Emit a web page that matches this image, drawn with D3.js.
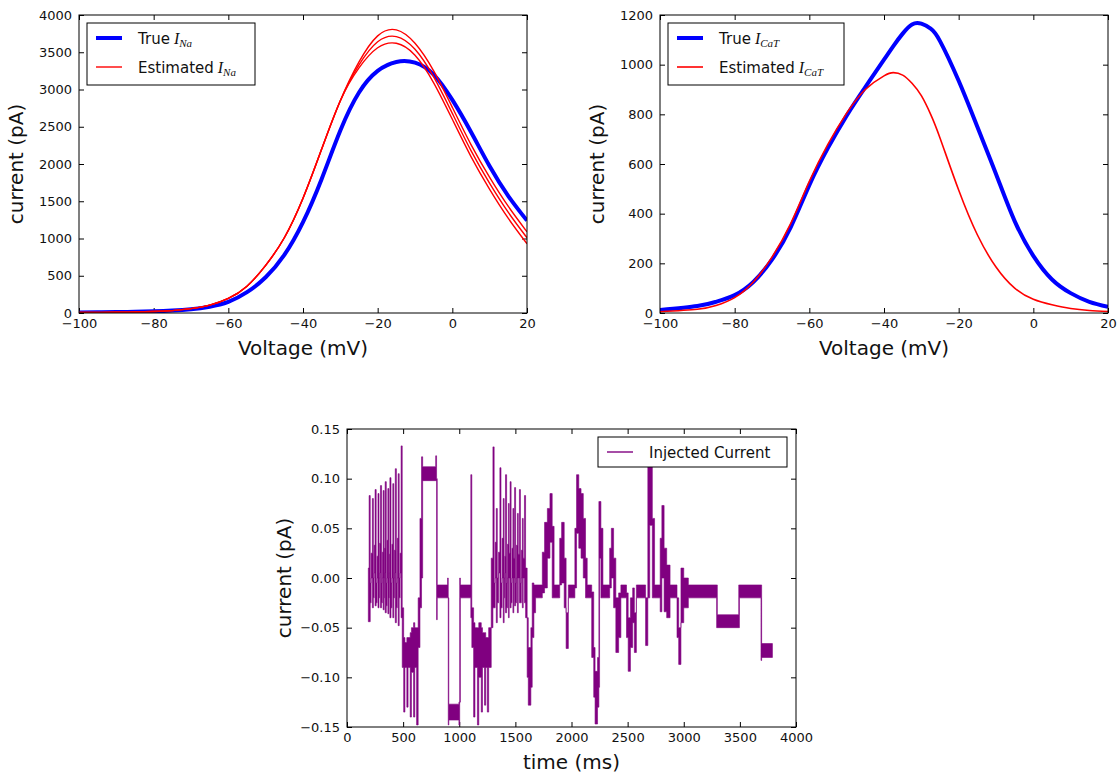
<!DOCTYPE html>
<html>
<head>
<meta charset="utf-8">
<script src="https://cdn.jsdelivr.net/npm/d3@7"></script>
<style>
  body { margin: 0; background: #fff; }
  svg text { font-family: "DejaVu Sans", sans-serif; fill: #111; }
</style>
</head>
<body>
<div id="chart"></div>
<script>
// ---- data ----
var naVoltage = [-100, -95, -90, -85, -80, -75, -70, -65, -60, -55, -50, -45, -40, -35, -30, -25, -20, -15, -10, -5, 0, 5, 10, 15, 20];
var naTrue = [8, 10, 12, 16, 22, 32, 50, 85, 150, 280, 480, 780, 1220, 1800, 2450, 2960, 3250, 3370, 3360, 3200, 2860, 2430, 1970, 1570, 1240];
var naEst1 = [6, 8, 10, 14, 20, 32, 58, 105, 195, 360, 640, 1010, 1540, 2200, 2850, 3370, 3720, 3800, 3620, 3250, 2760, 2260, 1820, 1430, 1090];
var naEst2 = [6, 8, 10, 14, 20, 32, 58, 105, 195, 360, 640, 1010, 1540, 2200, 2850, 3330, 3640, 3710, 3540, 3170, 2680, 2180, 1740, 1350, 1010];
var naEst3 = [6, 8, 10, 14, 20, 32, 58, 105, 195, 360, 640, 1010, 1540, 2200, 2850, 3290, 3560, 3620, 3460, 3090, 2600, 2100, 1660, 1270, 930];

var caVoltage = [-100, -90, -85, -80, -75, -70, -65, -60, -55, -50, -45, -40, -37.5, -35, -32.5, -30, -27.5, -25, -20, -15, -10, -5, 0, 5, 10, 15, 20];
var caTrue = [12, 28, 45, 72, 125, 215, 345, 515, 665, 795, 910, 1020, 1075, 1125, 1162, 1165, 1145, 1095, 935, 750, 560, 370, 230, 135, 80, 45, 25];
var caEst = [5, 15, 30, 62, 125, 225, 360, 530, 680, 805, 900, 955, 968, 958, 925, 875, 800, 705, 495, 315, 185, 100, 55, 33, 18, 10, 6];

// injected current: [start time (ms), min, max] of the trace in each stretch
var injected = [
  [190, -0.044, 0.01], [197, -0.044, 0.083], [207, -0.025, -0.005], [215, 0.0, 0.025],
  [226, -0.03, 0.08], [235, -0.02, 0.0], [242, 0.005, 0.033],
  [250, -0.028, 0.089], [260, -0.025, -0.005], [268, 0.0, 0.022],
  [276, -0.03, 0.085], [285, -0.02, 0.0], [291, 0.005, 0.035],
  [298, -0.03, 0.093], [308, -0.025, -0.005], [315, 0.0, 0.026],
  [322, -0.032, 0.088], [331, -0.02, 0.0], [335, 0.005, 0.03],
  [340, -0.035, 0.097], [350, -0.028, -0.005], [357, 0.0, 0.038],
  [364, -0.036, 0.09], [373, -0.02, 0.0], [377, 0.005, 0.024],
  [382, -0.04, 0.101], [392, -0.03, -0.005], [400, 0.0, 0.034],
  [408, -0.04, 0.095], [417, -0.02, 0.0], [423, 0.005, 0.028],
  [430, -0.045, 0.11], [440, -0.03, -0.005], [448, 0.0, 0.04],
  [456, -0.048, 0.105], [465, -0.02, 0.0], [473, 0.005, 0.025],
  [482, -0.04, 0.133], [492, -0.09, -0.03], [505, -0.135, -0.06],
  [516, -0.09, -0.065], [533, -0.13, -0.06], [544, -0.09, -0.06], [563, -0.14, -0.055],
  [574, -0.095, -0.05], [593, -0.14, -0.045], [604, -0.09, -0.05], [620, -0.148, -0.05],
  [634, -0.07, -0.02], [650, -0.03, 0.06], [664, 0.0, 0.122], [674, 0.098, 0.112],
  [790, 0.098, 0.123], [798, -0.042, 0.1], [804, -0.02, -0.007], [896, -0.02, 0.0],
  [902, -0.148, -0.02], [907, -0.143, -0.127], [997, -0.148, -0.125], [1004, -0.125, 0.0],
  [1010, -0.02, -0.007], [1103, -0.04, 0.104], [1112, -0.07, -0.03], [1128, -0.14, -0.045],
  [1140, -0.09, -0.05], [1162, -0.148, -0.05], [1174, -0.1, -0.045], [1196, -0.135, -0.05],
  [1207, -0.09, -0.055], [1225, -0.128, -0.055], [1236, -0.09, -0.06], [1250, -0.135, -0.06],
  [1262, -0.09, -0.05], [1285, -0.05, 0.02],
  [1300, -0.03, 0.132], [1311, -0.03, -0.005], [1320, 0.0, 0.036],
  [1330, -0.045, 0.07], [1339, -0.025, 0.0], [1350, 0.005, 0.026],
  [1362, -0.04, 0.111], [1372, -0.03, -0.005], [1382, 0.0, 0.04],
  [1392, -0.045, 0.08], [1400, -0.02, 0.0], [1406, 0.005, 0.022],
  [1412, -0.035, 0.104], [1422, -0.03, -0.005], [1430, 0.0, 0.034],
  [1438, -0.04, 0.075], [1445, 0.0, 0.025],
  [1453, -0.03, 0.097], [1462, -0.025, -0.005], [1470, 0.0, 0.03],
  [1478, -0.035, 0.07], [1486, 0.0, 0.02],
  [1493, -0.028, 0.091], [1502, -0.025, -0.005], [1510, 0.0, 0.033],
  [1518, -0.035, 0.065], [1526, 0.0, 0.024],
  [1536, -0.025, 0.089], [1545, -0.025, -0.005], [1553, 0.0, 0.028],
  [1562, -0.03, 0.06], [1570, 0.0, 0.02],
  [1581, -0.025, 0.083], [1591, -0.04, 0.01],
  [1605, -0.1, -0.04], [1615, -0.128, -0.07], [1638, -0.11, -0.05], [1650, -0.06, -0.005],
  [1665, -0.035, -0.007], [1680, -0.02, -0.007], [1740, -0.015, 0.026], [1760, -0.01, 0.056],
  [1785, 0.02, 0.07], [1808, 0.036, 0.085], [1828, -0.02, 0.052], [1845, -0.02, -0.007],
  [1895, -0.007, 0.04], [1912, -0.005, 0.056], [1935, -0.03, 0.02], [1952, -0.071, -0.035],
  [1972, -0.02, -0.007], [2030, -0.01, 0.05], [2045, 0.045, 0.104], [2065, 0.03, 0.09],
  [2085, 0.02, 0.085], [2105, 0.0, 0.06], [2125, -0.02, 0.02], [2140, -0.02, -0.007],
  [2180, -0.08, -0.014], [2198, -0.12, -0.07], [2210, -0.147, -0.094], [2232, -0.13, -0.08],
  [2244, -0.11, 0.077], [2250, 0.02, 0.077], [2262, -0.02, 0.05], [2280, -0.02, -0.007],
  [2340, -0.01, 0.03], [2355, 0.0, 0.05], [2375, -0.03, 0.02], [2395, -0.075, -0.02],
  [2420, -0.06, -0.015], [2440, -0.02, -0.007], [2490, -0.06, -0.015], [2505, -0.094, -0.04],
  [2525, -0.07, -0.02], [2545, -0.045, -0.01], [2560, -0.075, -0.035], [2578, -0.02, -0.007],
  [2660, -0.068, -0.02], [2680, -0.02, 0.112], [2697, 0.053, 0.112], [2720, -0.02, 0.06],
  [2740, -0.02, -0.007], [2790, -0.034, 0.04], [2805, 0.0, 0.073], [2825, -0.034, 0.03],
  [2848, -0.04, 0.013], [2878, -0.02, -0.007], [2940, -0.06, -0.02], [2955, -0.087, -0.05],
  [2975, -0.045, 0.01], [3000, -0.03, 0.0], [3041, -0.02, -0.007], [3293, -0.05, -0.007],
  [3299, -0.05, -0.037], [3490, -0.05, -0.007], [3496, -0.02, -0.007], [3688, -0.083, -0.007],
  [3694, -0.08, -0.066], [3790, -0.08, -0.066]
];

// tick labels
var voltageTicks = [-100, -80, -60, -40, -20, 0, 20];
var naTicks = [0, 500, 1000, 1500, 2000, 2500, 3000, 3500, 4000];
var caTicks = [0, 200, 400, 600, 800, 1000, 1200];
var timeTicks = [0, 500, 1000, 1500, 2000, 2500, 3000, 3500, 4000];
var injTicks = [-0.15, -0.1, -0.05, 0, 0.05, 0.1, 0.15];

// ---- layout ----
var svg_Width = 1120, svg_Height = 777;
var svg = d3.select("#chart").append("svg")
  .attr("width", svg_Width)
  .attr("height", svg_Height);

// draws inward ticks on all four sides plus axis labels, returns scales
function makePanel(box, xDomain, yDomain, xTicks, yTicks, xFmt, yFmt, xLabel, yLabel) {
  var x = d3.scaleLinear().domain(xDomain).range([box.x, box.x + box.w]);
  var y = d3.scaleLinear().domain(yDomain).range([box.y + box.h, box.y]);

  var g = svg.append("g");

  g.append("g")
    .attr("transform", `translate(0, ${box.y + box.h})`)
    .call(d3.axisBottom(x).tickValues(xTicks).tickFormat(xFmt).tickSizeInner(-5).tickSizeOuter(0).tickPadding(6));
  g.append("g")
    .attr("transform", `translate(0, ${box.y})`)
    .call(d3.axisTop(x).tickValues(xTicks).tickFormat("").tickSizeInner(-5).tickSizeOuter(0));
  g.append("g")
    .attr("transform", `translate(${box.x}, 0)`)
    .call(d3.axisLeft(y).tickValues(yTicks).tickFormat(yFmt).tickSizeInner(-5).tickSizeOuter(0).tickPadding(7));
  g.append("g")
    .attr("transform", `translate(${box.x + box.w}, 0)`)
    .call(d3.axisRight(y).tickValues(yTicks).tickFormat("").tickSizeInner(-5).tickSizeOuter(0));

  g.selectAll(".domain").remove();
  g.selectAll(".tick line").attr("stroke", "#000");
  g.selectAll(".tick text")
    .style("font-family", "DejaVu Sans, sans-serif")
    .style("font-size", "13px")
    .attr("fill", "#111");

  // axis labels
  svg.append("text")
    .attr("x", box.x + box.w / 2)
    .attr("y", box.y + box.h + 42)
    .attr("text-anchor", "middle")
    .style("font-size", "20px")
    .text(xLabel);
  svg.append("text")
    .attr("transform", `translate(${box.x - 56}, ${box.y + box.h / 2}) rotate(-90)`)
    .attr("text-anchor", "middle")
    .style("font-size", "20px")
    .text(yLabel);

  return { x: x, y: y, box: box };
}

function drawFrame(p) {
  svg.append("rect")
    .attr("x", p.box.x).attr("y", p.box.y)
    .attr("width", p.box.w).attr("height", p.box.h)
    .attr("fill", "none").attr("stroke", "#000").attr("stroke-width", 1);
}

function clipFor(p, id) {
  svg.append("clipPath").attr("id", id)
    .append("rect")
    .attr("x", p.box.x).attr("y", p.box.y)
    .attr("width", p.box.w).attr("height", p.box.h);
  return "url(#" + id + ")";
}

// legend: entries [{color, width, label, sub}]
function drawLegend(lx, ly, lw, lh, entries, rowGap) {
  var g = svg.append("g");
  g.append("rect")
    .attr("x", lx).attr("y", ly).attr("width", lw).attr("height", lh)
    .attr("fill", "#fff").attr("stroke", "#000").attr("stroke-width", 1);
  entries.forEach(function(e, i) {
    var cy = ly + 15 + i * rowGap;
    g.append("line")
      .attr("x1", lx + 9).attr("x2", lx + 35)
      .attr("y1", cy).attr("y2", cy)
      .attr("stroke", e.color).attr("stroke-width", e.width);
    var t = g.append("text")
      .attr("x", lx + 51).attr("y", cy + 5.5)
      .style("font-size", "15px");
    t.append("tspan").text(e.label);
    if (e.sub) {
      t.append("tspan")
        .style("font-family", "Liberation Serif, serif")
        .style("font-style", "italic")
        .style("font-size", "16px")
        .text(" I");
      t.append("tspan")
        .attr("dy", 3)
        .style("font-family", "Liberation Serif, serif")
        .style("font-style", "italic")
        .style("font-size", "11px")
        .text(e.sub);
    }
  });
}

var fmtInt = d3.format("d");

// ---- top left: I_Na ----
var pNa = makePanel({ x: 79, y: 15, w: 448, h: 298 }, [-100, 20], [0, 4000],
  voltageTicks, naTicks, fmtInt, fmtInt, "Voltage (mV)", "current (pA)");
var naClip = clipFor(pNa, "clipNa");
var naLine = d3.line()
  .x((d, i) => pNa.x(naVoltage[i]))
  .y(d => pNa.y(d))
  .curve(d3.curveNatural);

svg.append("path").datum(naTrue)
  .attr("clip-path", naClip)
  .attr("d", naLine)
  .attr("fill", "none").attr("stroke", "#0000ff").attr("stroke-width", 4);

[naEst1, naEst2, naEst3].forEach(function(s) {
  svg.append("path").datum(s)
    .attr("clip-path", naClip)
    .attr("d", naLine)
    .attr("fill", "none").attr("stroke", "#ff0000").attr("stroke-width", 1.4);
});
drawFrame(pNa);
drawLegend(87, 23, 168, 62, [
  { color: "#0000ff", width: 4, label: "True", sub: "Na" },
  { color: "#ff0000", width: 1.4, label: "Estimated", sub: "Na" }
], 29);

// ---- top right: I_CaT ----
var pCa = makePanel({ x: 660, y: 15, w: 448, h: 298 }, [-100, 20], [0, 1200],
  voltageTicks, caTicks, fmtInt, fmtInt, "Voltage (mV)", "current (pA)");
var caClip = clipFor(pCa, "clipCa");
var caLine = d3.line()
  .x((d, i) => pCa.x(caVoltage[i]))
  .y(d => pCa.y(d))
  .curve(d3.curveNatural);

svg.append("path").datum(caTrue)
  .attr("clip-path", caClip)
  .attr("d", caLine)
  .attr("fill", "none").attr("stroke", "#0000ff").attr("stroke-width", 4);
svg.append("path").datum(caEst)
  .attr("clip-path", caClip)
  .attr("d", caLine)
  .attr("fill", "none").attr("stroke", "#ff0000").attr("stroke-width", 1.6);
drawFrame(pCa);
drawLegend(668, 23, 176, 62, [
  { color: "#0000ff", width: 4, label: "True", sub: "CaT" },
  { color: "#ff0000", width: 1.6, label: "Estimated", sub: "CaT" }
], 29);

// ---- bottom: injected current ----
var pInj = makePanel({ x: 347, y: 429, w: 449, h: 298 }, [0, 4000], [-0.15, 0.15],
  timeTicks, injTicks, fmtInt, d3.format(".2f"), "time (ms)", "current (pA)");
var injClip = clipFor(pInj, "clipInj");

var injArea = d3.area()
  .x(d => pInj.x(d[0]))
  .y0(d => pInj.y(d[1]))
  .y1(d => pInj.y(d[2]))
  .curve(d3.curveStepAfter);

svg.append("path").datum(injected)
  .attr("clip-path", injClip)
  .attr("d", injArea)
  .attr("fill", "#800080")
  .attr("stroke", "#800080")
  .attr("stroke-width", 0.6);
drawFrame(pInj);
drawLegend(598, 437, 189, 30, [
  { color: "#800080", width: 1.4, label: "Injected Current" }
], 0);
</script>
</body>
</html>
